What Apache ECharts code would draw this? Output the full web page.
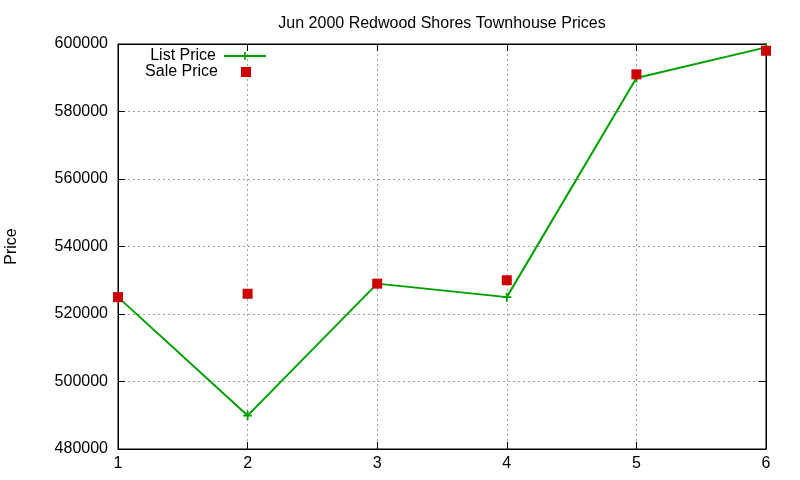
<!DOCTYPE html>
<html>
<head>
<meta charset="utf-8">
<script src="https://cdn.jsdelivr.net/npm/echarts@6/dist/echarts.min.js"></script>
<style>
  html, body { margin: 0; padding: 0; background: #fff; }
  #chart { width: 800px; height: 480px; }
</style>
</head>
<body>
<div id="chart"></div>
<script>
var chartTitle = 'Jun 2000 Redwood Shores Townhouse Prices';
var xValues = [1, 2, 3, 4, 5, 6];
var listPrice = [525000, 489900, 529000, 525000, 589900, 599000];
var salePrice = [525000, 526000, 529000, 530000, 591000, 598000];
var yMin = 480000, yMax = 600000, yStep = 20000;

var font = 'Liberation Sans, Arial, sans-serif';

function pairs(xs, ys) {
	return xs.map(function(x, i) { return [x, ys[i]]; });
}

var myChart = echarts.init(document.getElementById('chart'));
var gridLine = { show: true, lineStyle: { color: '#a0a0a0', type: [2, 3], width: 1 } };
var option = {
	animation: false,
	backgroundColor: '#fff',
	title: {
		text: chartTitle,
		left: 437, top: 11,
		textAlign: 'center',
		textStyle: { fontFamily: font, fontSize: 16, fontWeight: 'normal', color: '#000' }
	},
	legend: [{
		data: ['List Price'],
		align: 'right',
		right: 533, top: 48,
		padding: 0,
		itemWidth: 42, itemHeight: 10,
		textStyle: { fontFamily: font, fontSize: 16, color: '#000', padding: [0, 3, 0, 0] }
	}, {
		data: ['Sale Price'],
		align: 'right',
		right: 549, top: 64,
		padding: 0,
		itemWidth: 10, itemHeight: 10,
		textStyle: { fontFamily: font, fontSize: 16, color: '#000', padding: [0, 18, 0, 0] }
	}],
	grid: {
		left: 118, right: 34, top: 44, bottom: 31,
		outerBoundsMode: 'none', containLabel: false,
		show: true, borderColor: '#000', borderWidth: 1
	},
	xAxis: [{
		type: 'value', min: 1, max: 6, interval: 1,
		axisLine: { lineStyle: { color: '#000' } },
		axisTick: { inside: true, length: 7, lineStyle: { color: '#000' } },
		axisLabel: { color: '#000', fontFamily: font, fontSize: 16, margin: 7 },
		splitLine: gridLine
	}, {
		type: 'value', min: 1, max: 6, interval: 1, position: 'top',
		axisLine: { lineStyle: { color: '#000' } },
		axisTick: { inside: true, length: 7, lineStyle: { color: '#000' } },
		axisLabel: { show: false },
		splitLine: { show: false }
	}],
	yAxis: [{
		type: 'value', min: yMin, max: yMax, interval: yStep,
		name: 'Price', nameLocation: 'middle', nameGap: 98, nameRotate: 90,
		nameTextStyle: { color: '#000', fontFamily: font, fontSize: 16 },
		axisLine: { show: true, lineStyle: { color: '#000' } },
		axisTick: { show: true, inside: true, length: 7, lineStyle: { color: '#000' } },
		axisLabel: { color: '#000', fontFamily: font, fontSize: 16, margin: 10,
			formatter: function(v) { return String(v); } },
		splitLine: gridLine
	}, {
		type: 'value', min: yMin, max: yMax, interval: yStep, position: 'right',
		axisLine: { show: true, lineStyle: { color: '#000' } },
		axisTick: { show: true, inside: true, length: 7, lineStyle: { color: '#000' } },
		axisLabel: { show: false },
		splitLine: { show: false }
	}],
	series: [{
		name: 'List Price',
		type: 'line',
		data: pairs(xValues, listPrice),
		symbol: 'path://M4,0h2v4h4v2h-4v4h-2v-4h-4v-2h4z',
		symbolSize: 9,
		showAllSymbol: true,
		lineStyle: { color: '#00a000', width: 2 },
		itemStyle: { color: '#00a000' }
	}, {
		name: 'Sale Price',
		type: 'scatter',
		data: pairs(xValues, salePrice),
		symbol: 'rect',
		symbolSize: 10,
		itemStyle: { color: '#cc0000', opacity: 1 },
		z: 3
	}]
};
myChart.setOption(option);
</script>
</body>
</html>
